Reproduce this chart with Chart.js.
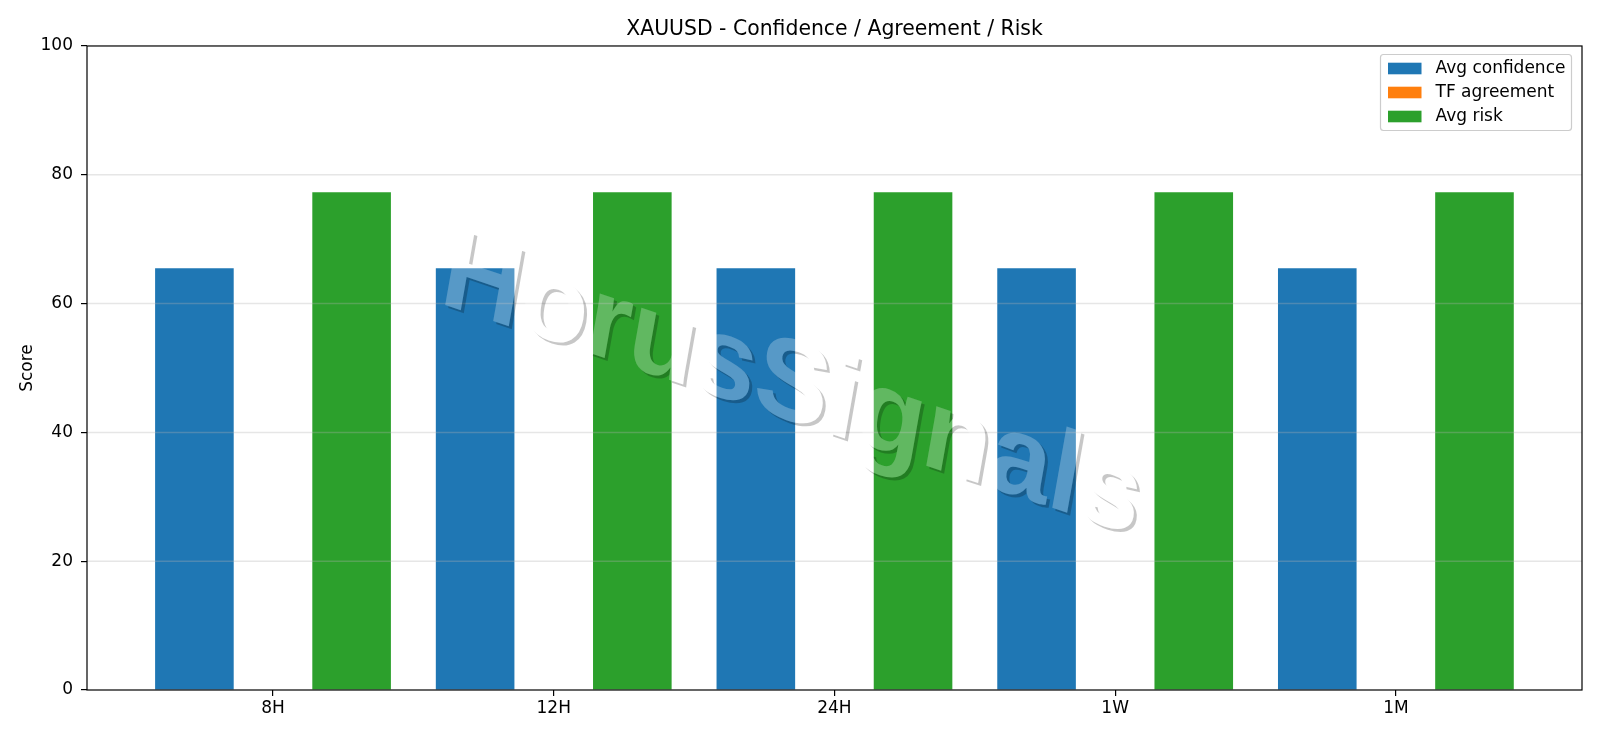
<!DOCTYPE html>
<html>
<head>
<meta charset="utf-8">
<script src="https://cdn.jsdelivr.net/npm/chart.js@4.4.0/dist/chart.umd.min.js"></script>
<style>
    html, body { margin: 0; padding: 0; background: #ffffff; }
    #wrap { width: 1600px; height: 738px; }
</style>
</head>
<body>
<div id="wrap"><canvas id="scoreChart" width="1600" height="738"></canvas></div>
<script>
const categories = ['8H', '12H', '24H', '1W', '1M'];
const avgConfidence = [65.5, 65.5, 65.5, 65.5, 65.5];
const tfAgreement = [0, 0, 0, 0, 0];
const avgRisk = [77.3, 77.3, 77.3, 77.3, 77.3];
const yTicks = [0, 20, 40, 60, 80, 100];
const chartTitle = 'XAUUSD - Confidence / Agreement / Risk';
const watermark = 'HorusSignals';

Chart.defaults.font.family = '"DejaVu Sans", sans-serif';
Chart.defaults.color = '#000000';

// bars sit on a linear x axis so the spacing matches the original margins
function toPoints(values)
{
    return values.map((v, i) => ({ x: i, y: v }));
}

// the watermark is rotated ~18.5deg but its stems only lean ~10deg (sheared)
function drawWatermarkText(c, dx, dy)
{
    const a = 18.5 * Math.PI / 180;
    const s = 10 * Math.PI / 180;
    c.save();
    c.transform(Math.cos(a), Math.sin(a), -Math.sin(s), Math.cos(s), 792 + dx, 388 + dy);
    c.font = 'bold 114px "Liberation Sans"';
    c.textAlign = 'center';
    c.textBaseline = 'middle';
    c.fillText(watermark, 0, 0);
    c.restore();
}

const overlayPlugin = {
    id: 'overlay',
    afterDatasetsDraw(chart) {
        const ctx = chart.ctx;
        const area = chart.chartArea;
        const yScale = chart.scales.y;

        // grid drawn over the bars, like the original
        ctx.save();
        ctx.strokeStyle = 'rgba(176,176,176,0.32)';
        ctx.lineWidth = 1.5;
        for (const v of yTicks) {
            if (v === 0 || v === 100) continue;
            const y = yScale.getPixelForValue(v);
            ctx.beginPath();
            ctx.moveTo(area.left, y);
            ctx.lineTo(area.right, y);
            ctx.stroke();
        }
        ctx.restore();

        // watermark: shadow sliver first, then a light fill
        const off = document.createElement('canvas');
        off.width = chart.width;
        off.height = chart.height;
        const w = off.getContext('2d');
        w.fillStyle = 'rgba(0,0,0,0.22)';
        drawWatermarkText(w, 3, 3);
        w.globalCompositeOperation = 'destination-out';
        w.fillStyle = '#000000';
        drawWatermarkText(w, 0, 0);
        ctx.drawImage(off, 0, 0);
        ctx.save();
        ctx.fillStyle = 'rgba(255,255,255,0.25)';
        drawWatermarkText(ctx, 0, 0);
        ctx.restore();

        // spines
        ctx.save();
        ctx.strokeStyle = '#000000';
        ctx.lineWidth = 1.2;
        ctx.strokeRect(area.left, area.top, area.right - area.left, area.bottom - area.top);
        ctx.restore();
    },
    afterDraw(chart) {
        const ctx = chart.ctx;
        const box = { x: 1380.5, y: 54.5, w: 191, h: 76 };
        ctx.save();
        ctx.beginPath();
        ctx.roundRect(box.x, box.y, box.w, box.h, 3);
        ctx.fillStyle = 'rgba(255,255,255,0.8)';
        ctx.fill();
        ctx.strokeStyle = '#cccccc';
        ctx.lineWidth = 1.2;
        ctx.stroke();
        ctx.font = '17px "DejaVu Sans"';
        ctx.textBaseline = 'middle';
        ctx.textAlign = 'left';
        chart.data.datasets.forEach((ds, i) => {
            const cy = 68.5 + i * 24;
            ctx.fillStyle = ds.backgroundColor;
            ctx.fillRect(1388, cy - 5.8, 33.5, 11.6);
            ctx.fillStyle = '#000000';
            ctx.fillText(ds.label, 1435.5, cy);
        });
        ctx.restore();
    }
};

new Chart(document.getElementById('scoreChart'), {
    type: 'bar',
    data: {
        datasets: [
            { label: 'Avg confidence', data: toPoints(avgConfidence), backgroundColor: '#1f77b4' },
            { label: 'TF agreement', data: toPoints(tfAgreement), backgroundColor: '#ff7f0e' },
            { label: 'Avg risk', data: toPoints(avgRisk), backgroundColor: '#2ca02c' },
        ]
    },
    options: {
        responsive: false,
        devicePixelRatio: 1,
        animation: false,
        datasets: {
            bar: { categoryPercentage: 0.84, barPercentage: 1.0, borderWidth: 0 }
        },
        layout: { padding: { left: 0, right: 18, top: 0, bottom: 0 } },
        plugins: {
            legend: { display: false },
            tooltip: { enabled: false },
            title: {
                display: true,
                text: chartTitle,
                fullSize: false,
                color: '#000000',
                font: { size: 20.4, weight: 'normal' },
                padding: { top: 17, bottom: 4.5 }
            }
        },
        scales: {
            x: {
                type: 'linear',
                min: -0.6626,
                max: 4.663,
                offset: false,
                afterBuildTicks: (scale) => {
                    scale.ticks = categories.map((c, i) => ({ value: i }));
                },
                afterFit: (scale) => { scale.height = 48; },
                ticks: {
                    callback: (v) => categories[v] ?? '',
                    font: { size: 17 },
                    color: '#000000',
                    padding: 2,
                    maxRotation: 0,
                    autoSkip: false
                },
                grid: { drawOnChartArea: false, offset: false, color: '#000000', tickLength: 6, lineWidth: 1.2 },
                border: { display: false }
            },
            y: {
                min: 0,
                max: 100,
                afterBuildTicks: (scale) => {
                    scale.ticks = yTicks.map((v) => ({ value: v }));
                },
                afterFit: (scale) => { scale.width = 87; },
                ticks: { font: { size: 17 }, color: '#000000', padding: 8 },
                grid: { drawOnChartArea: false, color: '#000000', tickLength: 6, lineWidth: 1.2 },
                border: { display: false },
                title: {
                    display: true,
                    text: 'Score',
                    color: '#000000',
                    font: { size: 17 },
                    padding: { top: 17.3, bottom: 0 }
                }
            }
        }
    },
    plugins: [overlayPlugin]
});
</script>
</body>
</html>
